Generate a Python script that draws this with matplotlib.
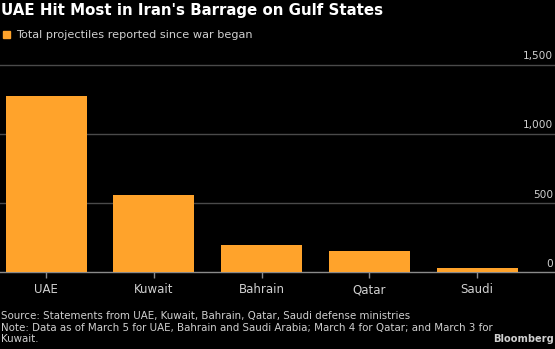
import matplotlib.pyplot as plt

countries = ["UAE", "Kuwait", "Bahrain", "Qatar", "Saudi"]
projectiles = [1272, 559, 195, 151, 33]
yticks = [0, 500, 1000, 1500]
ytick_labels = ["0", "500", "1,000", "1,500"]

bg = "black"
orange = "#ffa32b"
grey_text = "#d0d0d0"

fig = plt.figure(figsize=(5.55, 3.49), dpi=100, facecolor=bg)
ax = fig.add_axes([0, 76.7 / 349, 1, (272.3 - 64.7) / 349])
ax.set_facecolor(bg)

x = range(len(countries))
ax.bar(x, projectiles, width=0.752, color=orange, zorder=2)

ax.set_ylim(0, 1500)
ax.set_xlim(-0.429, 4.724)

# gridlines and right-side labels sitting above them
for val, lab in zip(yticks, ytick_labels):
    col = "#8a8a8a" if val == 0 else "#4a4a4a"
    ax.axhline(val, color=col, lw=1, zorder=1, clip_on=False)
    ax.annotate(lab, xy=(1, val), xycoords=("axes fraction", "data"),
                xytext=(-1.5, 2.5), textcoords="offset points",
                ha="right", va="bottom", color=grey_text, fontsize=7.6)

for s in ax.spines.values():
    s.set_visible(False)
ax.set_yticks([])
ax.set_xticks(list(x))
ax.set_xticklabels(countries, color=grey_text, fontsize=8.5)
ax.tick_params(axis="x", colors="#8a8a8a", length=4, width=1, pad=4,
               labelcolor=grey_text)

fig.text(0.002, 1 - 15 / 349, "UAE Hit Most in Iran's Barrage on Gulf States",
         color="white", fontsize=10.8, fontweight="bold", va="baseline")
fig.patches.append(plt.Rectangle((3 / 555, 1 - 37.5 / 349), 6.5 / 555, 6.5 / 349,
                                 transform=fig.transFigure, color=orange,
                                 figure=fig))
fig.text(16 / 555, 1 - 38.3 / 349, "Total projectiles reported since war began",
         color=grey_text, fontsize=8.1, va="baseline")

fig.text(0.002, 1 - 319 / 349,
         "Source: Statements from UAE, Kuwait, Bahrain, Qatar, Saudi defense ministries",
         color=grey_text, fontsize=7.4, va="baseline")
fig.text(0.002, 1 - 331 / 349,
         "Note: Data as of March 5 for UAE, Bahrain and Saudi Arabia; March 4 for Qatar; and March 3 for",
         color=grey_text, fontsize=7.4, va="baseline")
fig.text(0.002, 1 - 342 / 349, "Kuwait.",
         color=grey_text, fontsize=7.4, va="baseline")
fig.text(0.998, 1 - 342 / 349, "Bloomberg", color=grey_text, fontsize=7.1,
         fontweight="bold", ha="right", va="baseline")

fig.savefig("out.png", dpi=100, facecolor=bg)
